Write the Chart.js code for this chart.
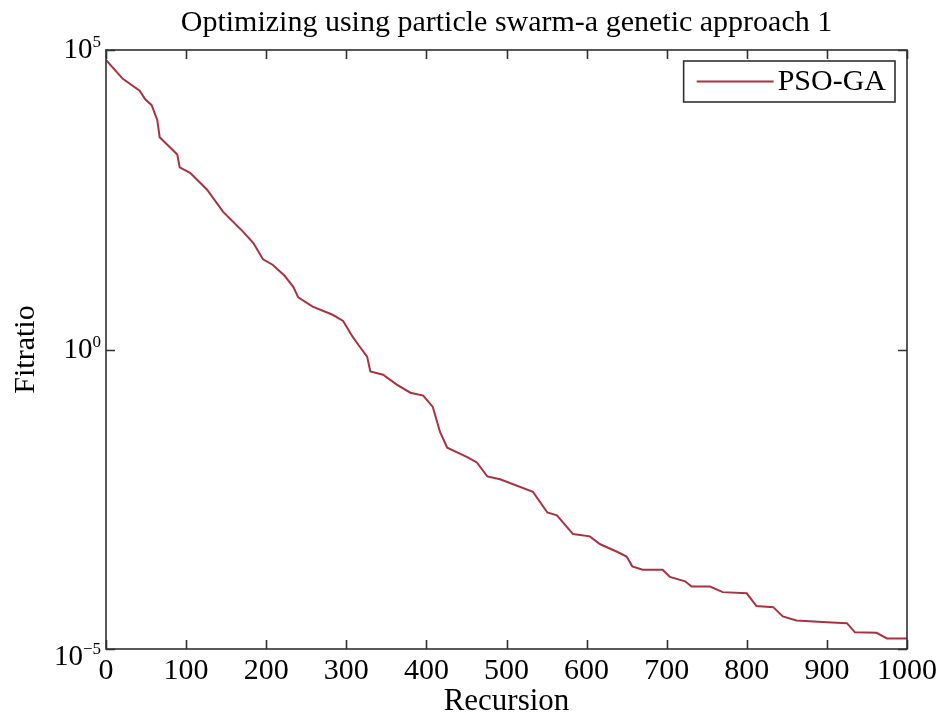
<!DOCTYPE html>
<html>
<head>
<meta charset="utf-8">
<script src="https://cdn.jsdelivr.net/npm/chart.js@4.4.1/dist/chart.umd.min.js"></script>
<style>
  html, body { margin: 0; padding: 0; background: #ffffff; }
  #wrap { width: 940px; height: 721px; position: relative; }
</style>
</head>
<body>
<div id="wrap"><canvas id="c" width="940" height="721"></canvas></div>
<script>
// ---- data ----
const chartTitle = 'Optimizing using particle swarm-a genetic approach 1';
const xAxisLabel = 'Recursion';
const yAxisLabel = 'Fitratio';
const seriesName = 'PSO-GA';

const recursion = [0, 21, 42, 49, 57, 64, 67, 89, 92, 105, 126, 146, 171, 184, 196, 208, 223, 234, 240, 258,
  283, 296, 307, 315, 326, 330, 346, 363, 380, 396, 408, 417, 426, 451, 463, 476, 492, 533, 551, 563,
  583, 604, 617, 638, 650, 657, 670, 695, 704, 723, 731, 754, 770, 800, 812, 833, 845, 862, 900, 925,
  935, 962, 975, 1000];
const fitratio = [6.8e4, 3.3e4, 2.1e4, 1.5e4, 1.2e4, 6.8e3, 3.5e3, 1.8e3, 1.1e3, 890, 470, 200, 93, 60, 32, 26, 17, 11, 7.4, 5.2,
  3.8, 3.0, 1.7, 1.2, 0.76, 0.43, 0.38, 0.26, 0.19, 0.17, 0.11, 0.042, 0.023, 0.016, 0.013, 0.0076, 0.0068, 0.0042, 0.0019, 0.0017,
  8.3e-4, 7.6e-4, 5.6e-4, 4.2e-4, 3.5e-4, 2.4e-4, 2.1e-4, 2.1e-4, 1.6e-4, 1.35e-4, 1.1e-4, 1.1e-4, 8.9e-5, 8.5e-5, 5.2e-5, 5.0e-5, 3.5e-5, 3.0e-5, 2.8e-5, 2.7e-5,
  1.9e-5, 1.86e-5, 1.5e-5, 1.5e-5];

const xTicks = [0, 100, 200, 300, 400, 500, 600, 700, 800, 900, 1000];
const xTickLabels = ['0', '100', '200', '300', '400', '500', '600', '700', '800', '900', '1000'];
const yTickValues = [1e-5, 1e0, 1e5];
const yTickBase = ['10', '10', '10'];
const yTickExponents = ['\u22125', '0', '5'];

// ---- style ----
const FONT = '"Liberation Serif", "Times New Roman", serif';
const AXIS_COLOR = '#303030';
const LINE_COLOR = '#a8323f';

const points = recursion.map((r, i) => ({ x: r, y: fitratio[i] }));

const matlabAxes = {
  id: 'matlabAxes',
  afterDatasetsDraw(chart) {
    const { ctx, chartArea: a, scales } = chart;
    const xs = scales.x, ys = scales.y;
    ctx.save();
    // box
    ctx.strokeStyle = AXIS_COLOR;
    ctx.lineWidth = 1.6;
    ctx.strokeRect(a.left, a.top, a.right - a.left, a.bottom - a.top);
    // inward ticks
    const tl = 9;
    ctx.beginPath();
    xTicks.forEach(v => {
      const px = Math.round(xs.getPixelForValue(v)) + 0.5;
      ctx.moveTo(px, a.bottom); ctx.lineTo(px, a.bottom - tl);
      ctx.moveTo(px, a.top); ctx.lineTo(px, a.top + tl);
    });
    yTickValues.forEach(v => {
      const py = Math.round(ys.getPixelForValue(v)) + 0.5;
      ctx.moveTo(a.left, py); ctx.lineTo(a.left + tl, py);
      ctx.moveTo(a.right, py); ctx.lineTo(a.right - tl, py);
    });
    ctx.stroke();

    // y tick labels with superscript exponents
    ctx.fillStyle = '#000';
    yTickValues.forEach((v, i) => {
      const py = ys.getPixelForValue(v);
      const shift = (i === 0) ? 8 : 0;
      ctx.font = '17px ' + FONT;
      const ew = ctx.measureText(yTickExponents[i]).width;
      const ex = a.left - 5 - ew;
      ctx.textAlign = 'left';
      ctx.textBaseline = 'alphabetic';
      ctx.fillText(yTickExponents[i], ex, py - 3 + shift);
      ctx.font = '29px ' + FONT;
      ctx.textAlign = 'right';
      ctx.fillText(yTickBase[i], ex, py + 8 + shift);
    });

    // legend
    ctx.font = '30px ' + FONT;
    const tw = ctx.measureText(seriesName).width;
    const lw = 13 + 77 + 4 + tw + 9;
    const lh = 41;
    const lx = a.right - 12 - lw;
    const ly = a.top + 11;
    ctx.fillStyle = '#fff';
    ctx.fillRect(lx, ly, lw, lh);
    ctx.strokeStyle = AXIS_COLOR;
    ctx.lineWidth = 1.6;
    ctx.strokeRect(lx, ly, lw, lh);
    ctx.strokeStyle = LINE_COLOR;
    ctx.lineWidth = 1.8;
    ctx.beginPath();
    ctx.moveTo(lx + 13, ly + lh / 2);
    ctx.lineTo(lx + 13 + 77, ly + lh / 2);
    ctx.stroke();
    ctx.fillStyle = '#000';
    ctx.textAlign = 'left';
    ctx.textBaseline = 'middle';
    ctx.fillText(seriesName, lx + 13 + 77 + 4, ly + lh / 2 + 1);
    ctx.restore();
  }
};

const bgPlugin = {
  id: 'bg',
  beforeDraw(chart) {
    const { ctx } = chart;
    ctx.save();
    ctx.fillStyle = '#ffffff';
    ctx.fillRect(0, 0, chart.width, chart.height);
    ctx.restore();
  }
};

new Chart(document.getElementById('c'), {
  type: 'line',
  data: {
    datasets: [{
      label: seriesName,
      data: points,
      borderColor: LINE_COLOR,
      borderWidth: 2,
      pointRadius: 0,
      tension: 0,
      fill: false
    }]
  },
  options: {
    responsive: false,
    animation: false,
    layout: { padding: { left: 0, right: 33, top: 0, bottom: 0 } },
    plugins: {
      legend: { display: false },
      tooltip: { enabled: false },
      title: {
        display: true,
        text: chartTitle,
        fullSize: false,
        color: '#000',
        font: { family: FONT, size: 30, weight: 'normal', lineHeight: 1.2 },
        padding: { top: 5, bottom: 9 }
      }
    },
    scales: {
      x: {
        type: 'linear',
        min: 0, max: 1000,
        afterBuildTicks: s => { s.ticks = xTicks.map(v => ({ value: v })); },
        afterFit: s => { s.height = 72; s.paddingLeft = 0; s.paddingRight = 0; },
        grid: { display: false, drawTicks: false },
        border: { display: false },
        ticks: {
          color: '#000',
          padding: 4,
          maxRotation: 0,
          autoSkip: false,
          font: { family: FONT, size: 30 },
          callback: (v) => { const k = xTicks.indexOf(v); return k >= 0 ? xTickLabels[k] : ''; }
        },
        title: {
          display: true,
          text: xAxisLabel,
          color: '#000',
          font: { family: FONT, size: 31 },
          padding: { top: 0, bottom: 1 }
        }
      },
      y: {
        type: 'logarithmic',
        min: 1e-5, max: 1e5,
        afterBuildTicks: s => { s.ticks = yTickValues.map(v => ({ value: v })); },
        afterFit: s => { s.width = 106; s.paddingTop = 0; s.paddingBottom = 0; },
        grid: { display: false, drawTicks: false },
        border: { display: false },
        ticks: { display: false },
        title: {
          display: true,
          text: yAxisLabel,
          color: '#000',
          font: { family: FONT, size: 30 },
          padding: { top: 8, bottom: 0 }
        }
      }
    }
  },
  plugins: [bgPlugin, matlabAxes]
});
</script>
</body>
</html>
